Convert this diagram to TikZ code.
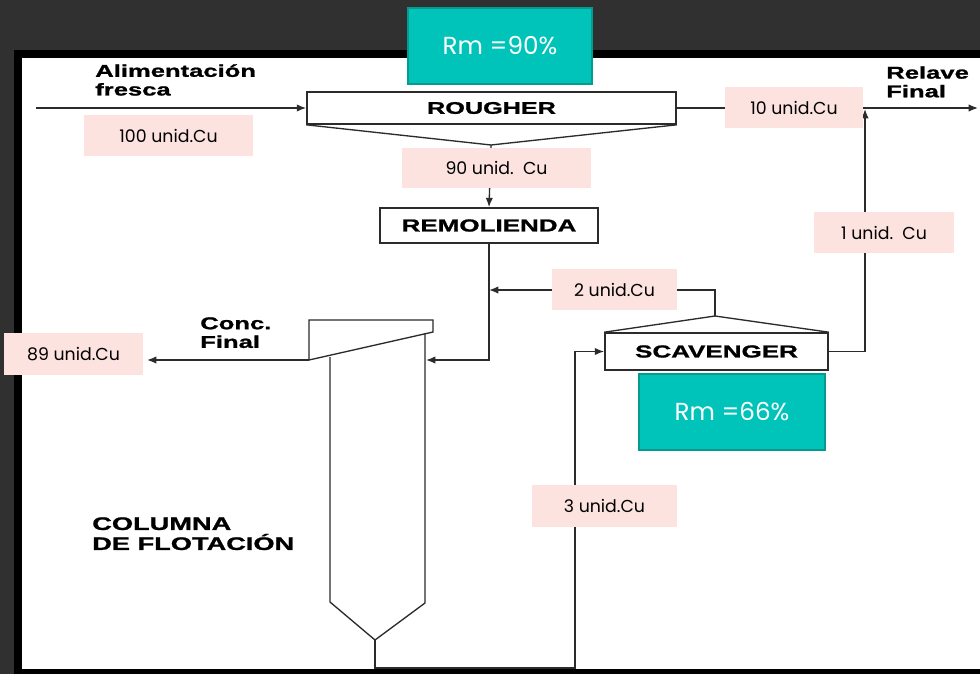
\documentclass[tikz,border=0pt]{standalone}
\usepackage{fontspec}
\usetikzlibrary{arrows.meta,positioning}
\newfontfamily\widebf{Liberation Sans}[FakeStretch=1.5,BoldFeatures={FakeBold=1.2}]
\newfontfamily\gothic{Poppins}
\definecolor{Slate}{HTML}{303030}
\definecolor{Blush}{HTML}{FCE3DF}
\definecolor{Aqua}{HTML}{00C4B9}
\definecolor{AquaEdge}{HTML}{079A8F}
\definecolor{Ink}{HTML}{2B2B2B}

\begin{document}
\begin{tikzpicture}[x=0.75pt,y=-0.75pt,
        u/.style={draw=Ink,line width=1.2pt,fill=white,inner sep=0pt,font=\widebf\bfseries\fontsize{13}{15}\selectfont},
        f/.style={-{Latex[length=7pt,width=5.5pt]},draw=Ink,line width=1pt},
        w/.style={draw=Ink,line width=1pt},
        q/.style={fill=Blush,inner sep=0pt,font=\gothic\fontsize{13}{15}\selectfont},
        rm/.style={fill=Aqua,draw=AquaEdge,line width=1.5pt,inner sep=0pt,text=white,font=\gothic\fontsize{18.5}{22}\selectfont},
        t/.style={anchor=north west,align=left,inner sep=0pt,font=\widebf\bfseries\fontsize{12.8}{14}\selectfont}]
        \fill[Slate] (0,0) rectangle (980,674);
        \fill[black] (14,50) rectangle (980,674);
        \fill[white] (22,58) rectangle (980,669);
        \node[u,minimum width=276.75pt,minimum height=24pt,font=\widebf\bfseries\fontsize{12.6}{15}\selectfont] (rougher) at (491.5,108) {ROUGHER};
        \node[u,minimum width=163.5pt,minimum height=26.25pt] (remol) at (489,225.5) {REMOLIENDA};
        \node[u,minimum width=167.25pt,minimum height=27.75pt] (scav) at (716.5,351.5) {SCAVENGER};
        \coordinate (feed) at (36,108);
        \coordinate (relave) at (978,108);
        \coordinate (tee) at (865,109);
        \coordinate (rtip) at (491,145);
        \coordinate (stip) at (715,316);
        \coordinate (join) at (489,290);
        \coordinate (colin) at (426,360);
        \coordinate (lip) at (309,360);
        \coordinate (conc) at (147,360);
        \coordinate (cone) at (375,640);
        \coordinate (turn) at (575,668);
        \draw[w] (309,320) -- (433,320) -- (433,332) -- (lip) -- cycle;
        \draw[w] (330,357) -- (330,602) -- (cone) -- (425,603) -- (425,333);
        \draw[w] (rougher.south west) -- (rtip) -- (rougher.south east);
        \draw[w] (scav.north west) -- (stip) -- (scav.north east);
        \draw[f] (feed) -- (rougher.west);
        \draw[f] (rougher.east) -- (relave);
        \draw[f] (rtip) -- (remol.north);
        \draw[f] (remol.south) |- (colin);
        \draw[f] (stip) |- (join);
        \draw[f] (scav.east) -| (tee);
        \draw[f] (cone) |- (turn) |- (scav.west);
        \draw[f] (lip) -- (conc);
        \node[t] (alim) at (95,64) {Alimentación\\fresca};
        \node[t] (relv) at (886,66) {Relave\\Final};
        \node[t] (cncf) at (200,317) {Conc.\\Final};
        \node[t,font=\widebf\bfseries\fontsize{13.6}{15}\selectfont] (colf) at (92,517) {COLUMNA\\DE FLOTACIÓN};
        \node[q,minimum width=126.75pt,minimum height=30.75pt] (c100) at (168.5,135.5) {100 unid.Cu};
        \node[q,minimum width=141.75pt,minimum height=30pt] (c90) at (496.5,168) {90 unid.~~Cu};
        \node[q,minimum width=103.5pt,minimum height=30.75pt] (c10) at (794,107.5) {10 unid.Cu};
        \node[q,minimum width=105pt,minimum height=30.75pt] (c1) at (884,232.5) {1 unid.~~Cu};
        \node[q,minimum width=93.75pt,minimum height=30.75pt] (c2) at (614.5,289.5) {2 unid.Cu};
        \node[q,minimum width=104.25pt,minimum height=31.5pt] (c89) at (73.5,354) {89 unid.Cu};
        \node[q,minimum width=108.75pt,minimum height=31.5pt] (c3) at (604.5,506) {3 unid.Cu};
        \node[rm,minimum width=138pt,minimum height=57pt] (rm90) at (500,46) {Rm =90\%};
        \node[rm,minimum width=139.5pt,minimum height=57pt] (rm66) at (732,412) {Rm =66\%};
\end{tikzpicture}
\end{document}
